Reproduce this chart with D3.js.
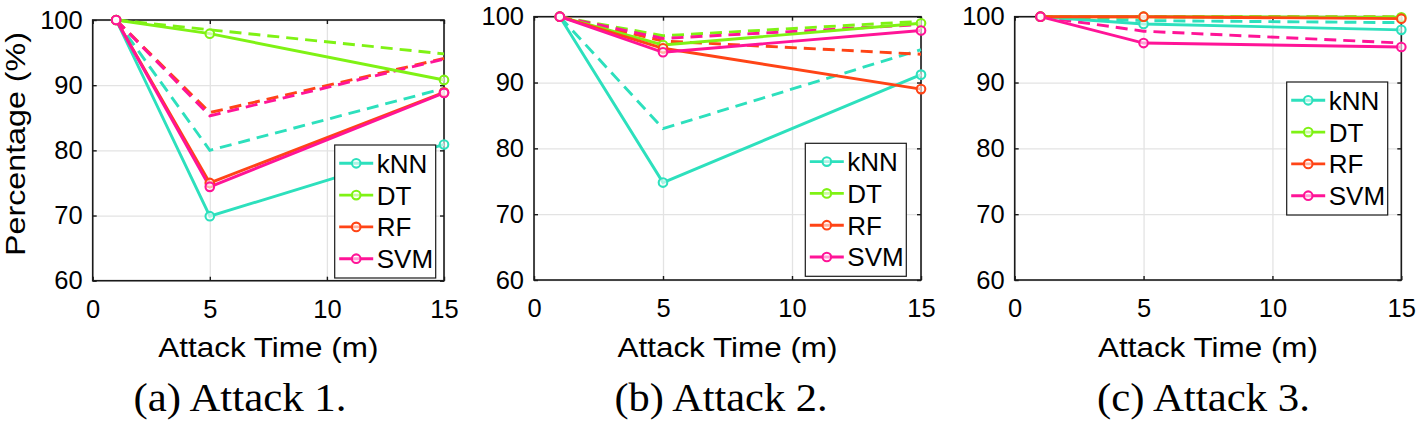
<!DOCTYPE html>
<html>
<head>
<meta charset="utf-8">
<script src="https://cdn.jsdelivr.net/npm/d3@7"></script>
<style>
  html, body { margin: 0; padding: 0; background: #fff; }
  svg { display: block; }
</style>
</head>
<body>
<svg id="chart" width="1421" height="421"></svg>
<script>
// ---------------- DATA ----------------
const times = [1, 5, 15];
const models = ["kNN", "DT", "RF", "SVM"];
const colors = ["#2de0bd", "#7ff214", "#ff4416", "#ff1497"];
const xTicks = [0, 5, 10, 15];
const yTicks = [60, 70, 80, 90, 100];
const captions = ["(a) Attack 1.", "(b) Attack 2.", "(c) Attack 3."];
const xLabel = "Attack Time (m)";
const yLabel = "Percentage (%)";

// rows: kNN, DT, RF, SVM ; columns: times
const attack1Solid  = [[100, 69.9, 80.9], [100, 97.9, 90.8], [100, 75.0, 88.9], [100, 74.4, 88.8]];
const attack1Dashed = [[100, 80.0, 89.5], [100, 98.5, 94.8], [100, 85.8, 94.1], [100, 85.3, 94.0]];
const attack2Solid  = [[100, 74.8, 91.2], [100, 95.7, 99.0], [100, 95.2, 89.0], [100, 94.6, 97.9]];
const attack2Dashed = [[100, 83.0, 95.0], [100, 97.1, 99.3], [100, 96.3, 94.3], [100, 96.7, 98.8]];
const attack3Solid  = [[100, 98.9, 98.0], [100, 100, 99.9], [100, 100, 99.7], [100, 96.0, 95.4]];
const attack3Dashed = [[100, 99.4, 99.1], [100, 100, 100], [100, 100, 99.9], [100, 97.8, 96.0]];

// ---------------- LAYOUT ----------------
const panels = [
  { solid: attack1Solid, dashed: attack1Dashed, x0: 92.7, x1: 444, y0: 20, y1: 280.7,
    leg: { x: 334.7, y: 145 }, capX: 240, showY: true },
  { solid: attack2Solid, dashed: attack2Dashed, x0: 534, x1: 921, y0: 16.7, y1: 280,
    leg: { x: 805.3, y: 143.3 }, capX: 721, showY: false },
  { solid: attack3Solid, dashed: attack3Dashed, x0: 1014.7, x1: 1401.3, y0: 16.7, y1: 280,
    leg: { x: 1286.7, y: 82 }, capX: 1203.5, showY: false }
];

const svg = d3.select("#chart");
const SANS = "'Liberation Sans', Arial, Helvetica, sans-serif";
const SERIF = "'Liberation Serif', 'Times New Roman', serif";

panels.forEach((p, pi) => {
  const x = d3.scaleLinear().domain([0, 15]).range([p.x0, p.x1]);
  const y = d3.scaleLinear().domain([60, 100]).range([p.y1, p.y0]);
  const W = p.x1 - p.x0, H = p.y1 - p.y0;
  const g = svg.append("g");

  // grid
  g.append("g").attr("transform", `translate(0,${p.y1})`)
    .call(d3.axisBottom(x).tickValues(xTicks).tickSize(-H).tickFormat(""))
    .call(s => s.select(".domain").remove())
    .selectAll("line").attr("stroke", "#e3e3e3").attr("stroke-width", 1.3);
  g.append("g").attr("transform", `translate(${p.x0},0)`)
    .call(d3.axisLeft(y).tickValues(yTicks).tickSize(-W).tickFormat(""))
    .call(s => s.select(".domain").remove())
    .selectAll("line").attr("stroke", "#e3e3e3").attr("stroke-width", 1.3);

  // box
  g.append("rect").attr("x", p.x0).attr("y", p.y0).attr("width", W).attr("height", H)
    .attr("fill", "none").attr("stroke", "#1a1a1a").attr("stroke-width", 1.6);

  // axes with inward ticks
  const ax = g.append("g").attr("transform", `translate(0,${p.y1})`)
    .call(d3.axisBottom(x).tickValues(xTicks).tickSize(-4).tickPadding(19).tickFormat(d3.format("d")));
  const ay = g.append("g").attr("transform", `translate(${p.x0},0)`)
    .call(d3.axisLeft(y).tickValues(yTicks).tickSize(-4).tickPadding(10).tickFormat(d3.format("d")));
  const at = g.append("g").attr("transform", `translate(0,${p.y0})`)
    .call(d3.axisTop(x).tickValues(xTicks).tickSize(-4).tickFormat(""));
  const ar = g.append("g").attr("transform", `translate(${p.x1},0)`)
    .call(d3.axisRight(y).tickValues(yTicks).tickSize(-4).tickFormat(""));
  [ax, ay, at, ar].forEach(a => {
    a.select(".domain").remove();
    a.selectAll("line").attr("stroke", "#1a1a1a").attr("stroke-width", 1.4);
    a.selectAll("text").attr("font-family", SANS).attr("font-size", 25.5).attr("fill", "#000");
  });

  const line = d3.line().x((d, i) => x(times[i])).y(d => y(d));

  // dashed series
  p.dashed.forEach((vals, mi) => {
    g.append("path").attr("d", line(vals)).attr("fill", "none")
      .attr("stroke", colors[mi]).attr("stroke-width", 2.9)
      .attr("stroke-dasharray", "12,7");
  });
  // solid series
  p.solid.forEach((vals, mi) => {
    g.append("path").attr("d", line(vals)).attr("fill", "none")
      .attr("stroke", colors[mi]).attr("stroke-width", 2.9);
  });
  p.solid.forEach((vals, mi) => {
    g.selectAll(null).data(vals).enter().append("circle")
      .attr("cx", (d, i) => x(times[i])).attr("cy", d => y(d)).attr("r", 4.3)
      .attr("fill", "#fff").attr("fill-opacity", 0.6)
      .attr("stroke", colors[mi]).attr("stroke-width", 2.1);
  });

  // legend
  const lg = g.append("g").attr("transform", `translate(${p.leg.x},${p.leg.y})`);
  lg.append("rect").attr("width", 101).attr("height", 133).attr("fill", "#fff")
    .attr("stroke", "#1a1a1a").attr("stroke-width", 1.2);
  models.forEach((m, mi) => {
    const cy = 18.3 + mi * 31.8;
    lg.append("line").attr("x1", 4.5).attr("x2", 38.5).attr("y1", cy).attr("y2", cy)
      .attr("stroke", colors[mi]).attr("stroke-width", 2.9);
    lg.append("circle").attr("cx", 21.5).attr("cy", cy).attr("r", 4.3)
      .attr("fill", "#fff").attr("fill-opacity", 0.6)
      .attr("stroke", colors[mi]).attr("stroke-width", 2.1);
    lg.append("text").attr("x", 42).attr("y", cy + 9.5).text(m)
      .attr("font-family", SANS).attr("font-size", 26).attr("fill", "#000");
  });

  // x label
  g.append("text").attr("x", (p.x0 + p.x1) / 2).attr("y", 356.5)
    .attr("text-anchor", "middle").attr("font-family", SANS).attr("font-size", 28)
    .attr("textLength", 220).attr("lengthAdjust", "spacingAndGlyphs").text(xLabel);

  // y label
  if (p.showY) {
    g.append("text").attr("transform", `translate(25,144) rotate(-90)`)
      .attr("text-anchor", "middle").attr("font-family", SANS).attr("font-size", 28)
      .attr("textLength", 224).attr("lengthAdjust", "spacingAndGlyphs").text(yLabel);
  }

  // caption
  g.append("text").attr("x", p.capX).attr("y", 411)
    .attr("text-anchor", "middle").attr("font-family", SERIF).attr("font-size", 39)
    .attr("textLength", 213).attr("lengthAdjust", "spacingAndGlyphs").text(captions[pi]);
});
</script>
</body>
</html>
